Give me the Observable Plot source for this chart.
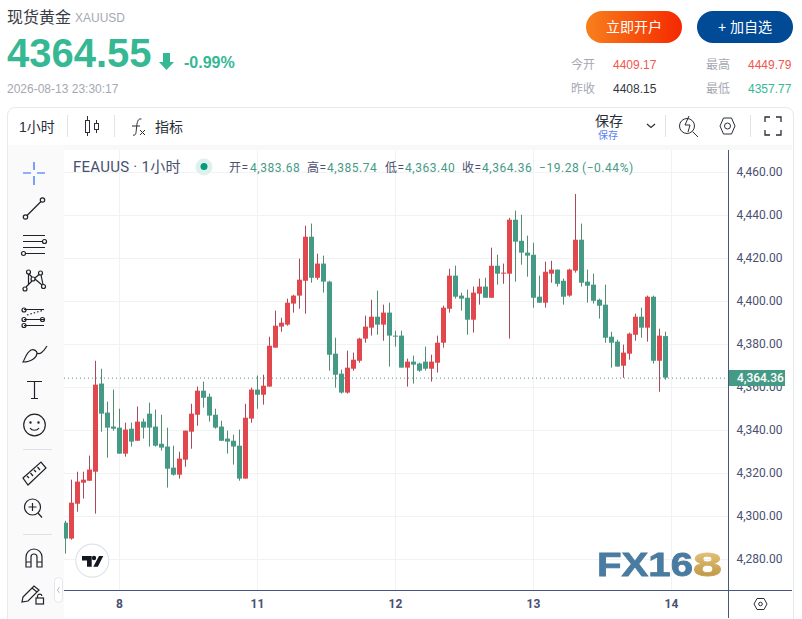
<!DOCTYPE html>
<html lang="zh">
<head>
<meta charset="utf-8">
<script src="https://cdn.jsdelivr.net/npm/d3@7"></script>
<script src="https://cdn.jsdelivr.net/npm/@observablehq/plot@0.6"></script>
<style>
html,body{margin:0;padding:0;background:#fff;width:802px;height:619px;overflow:hidden}
body{position:relative;font-family:"Liberation Sans","Noto Sans CJK SC",sans-serif}
.t{position:absolute;white-space:nowrap;line-height:1}
#card{position:absolute;left:7px;top:107px;width:785px;height:511px;border:1px solid #e8e9ee;border-radius:8px 8px 0 0;box-sizing:content-box}
#strip1{position:absolute;left:8px;top:145px;width:784px;height:5px;background:#f8f8f9}
#strip2{position:absolute;left:8px;top:145px;width:56px;height:473px;background:#fafafa;z-index:1}
#plot{position:absolute;left:0;top:0}
#chrome{position:absolute;left:0;top:0;pointer-events:none;z-index:2}
.btn{position:absolute;top:11px;width:96px;height:32px;border-radius:16px;color:#fff;font-size:14px;line-height:32px;text-align:center}
.leg{position:absolute;top:162px;font:12px/1 Roboto,"Noto Sans CJK SC",sans-serif;letter-spacing:.55px;white-space:nowrap}
</style>
</head>
<body>
<div id="card"></div><div id="strip1"></div><div id="strip2"></div>
<div id="plot"></div>

<div class="t" style="left:7px;top:10px;font-size:16px;color:#3a3d45">现货黄金</div>
<div class="t" style="left:75px;top:12px;font-size:12px;color:#a5a8b2">XAUUSD</div>
<div class="t" style="left:7px;top:33px;font-size:40px;font-weight:700;color:#35b893">4364.55</div>
<div class="t" style="left:184px;top:55px;font-size:16px;font-weight:700;color:#35b893">-0.99%</div>
<div class="t" style="left:7px;top:83px;font-size:12px;color:#a5a8b2">2026-08-13 23:30:17</div>
<div class="btn" style="left:586px;background:linear-gradient(90deg,#f8801c,#f52800)">立即开户</div>
<div class="btn" style="left:697px;background:#004a96">+ 加自选</div>

<div class="t" style="left:571px;top:59px;font-size:12px;color:#a5a8b2">今开</div>
<div class="t" style="left:613px;top:59px;font-size:12px;color:#f2564f">4409.17</div>
<div class="t" style="left:706px;top:59px;font-size:12px;color:#a5a8b2">最高</div>
<div class="t" style="left:748px;top:59px;font-size:12px;color:#f2564f">4449.79</div>
<div class="t" style="left:571px;top:83px;font-size:12px;color:#a5a8b2">昨收</div>
<div class="t" style="left:613px;top:83px;font-size:12px;color:#33363d">4408.15</div>
<div class="t" style="left:706px;top:83px;font-size:12px;color:#a5a8b2">最低</div>
<div class="t" style="left:748px;top:83px;font-size:12px;color:#35b893">4357.77</div>

<div class="t" style="left:19px;top:120px;font-size:14px;color:#2a2e39">1小时</div>
<div class="t" style="left:155px;top:120px;font-size:14px;color:#2a2e39">指标</div>
<div class="t" style="left:595px;top:114px;font-size:14px;color:#2a2e39">保存</div>
<div class="t" style="left:598px;top:131px;font-size:10px;color:#5b7ff5">保存</div>

<div class="t" style="left:73px;top:160px;font:15px/1 Roboto,'Noto Sans CJK SC',sans-serif;letter-spacing:.25px;color:#4a5070;z-index:3">FEAUUS · 1小时</div>
<div class="leg" style="left:229px;color:#4a5070">开=</div>
<div class="leg" style="left:250px;color:#459a86">4,383.68</div>
<div class="leg" style="left:307px;color:#4a5070">高=</div>
<div class="leg" style="left:327px;color:#459a86">4,385.74</div>
<div class="leg" style="left:385px;color:#4a5070">低=</div>
<div class="leg" style="left:405px;color:#459a86">4,363.40</div>
<div class="leg" style="left:462px;color:#4a5070">收=</div>
<div class="leg" style="left:482px;color:#459a86">4,364.36</div>
<div class="leg" style="left:539px;color:#459a86">−19.28</div>
<div class="leg" style="left:582px;color:#459a86">(−0.44%)</div>

<svg id="chrome" width="802" height="619" viewBox="0 0 802 619" fill="none">
  <defs>
    <linearGradient id="gold" x1="0" y1="0" x2="0" y2="1"><stop offset="0" stop-color="#e8cf8c"/><stop offset=".5" stop-color="#d3ad5e"/><stop offset="1" stop-color="#b98f3f"/></linearGradient>
  </defs>
  <!-- axis frame -->
  <path d="M728.5 150V618M64 590.5H792" stroke="#4a5680"/>
  <!-- header arrow -->
  <path d="M163 53h7v9h4l-7.5 8-7.5-8h4z" fill="#35b893"/>
  <!-- legend dot -->
  <circle cx="204" cy="167" r="8.5" fill="#dff1ec"/><circle cx="204" cy="166.500" r="3.5" fill="#089981"/>
  <!-- top toolbar -->
  <g stroke="#e0e3eb"><path d="M67.500 115V137M114.500 115V137M665.500 115V137M750.500 115V137"/></g>
  <g stroke="#2a2e39" stroke-width="1">
    <path d="M87.500 116V136M96.500 120V133"/>
    <rect x="85.500" y="120.500" width="4" height="12" fill="#fff"/>
    <rect x="94.500" y="123.500" width="4" height="6" fill="#fff"/>
    <path d="M133 135c3 1 3-2 3.500-7s1-10 5-9M132 126h8M140 130l5 5M145 130l-5 5"/>
    <path d="M647 124l4 3.500 4-3.500" stroke-width="1.200"/>
    <circle cx="687" cy="126" r="7.500"/><path d="M692.500 131.500l5.500 5.500M689 116l-4 9h5l-2 7" />
    <path d="M720 126l3.500-8h8l3.500 8-3.500 8h-8z"/><circle cx="727.500" cy="126" r="3"/>
    <path d="M765 122v-5h5M776 117h5v5M781 130v5h-5M770 135h-5v-5" stroke-width="1.300"/>
  </g>
  <!-- left toolbar -->
  <path d="M23 173h8M37 173h8M34 162v8M34 176v9" stroke="#2962ff" stroke-width="1.200"/>
  <g stroke="#1f222b" stroke-width="1.200">
    <circle cx="25.500" cy="217" r="2.200"/><circle cx="42.500" cy="200" r="2.200"/><path d="M27 215.500L41 201.500"/>
    <path d="M23 235.500H45M23 241.500H42M23 247.500H45M26 253.500H45"/><circle cx="44.500" cy="241.500" r="2"/><circle cx="23.500" cy="253.500" r="2"/>
    <circle cx="28.500" cy="272" r="2"/><circle cx="40.500" cy="273" r="2"/><circle cx="33" cy="279" r="2"/><circle cx="25" cy="289" r="2"/><circle cx="43.500" cy="286.500" r="2"/>
    <path d="M29 274L32 277M35 278L39 274.500M32 281L26 287M28.500 274V284M41 275L43 284.500M35 279L42 285"/>
    <path d="M24 309.500H44M24 319.500H44M24 325.500H44"/><circle cx="24" cy="310" r="2"/><circle cx="24" cy="319.500" r="2"/><circle cx="42.500" cy="319.500" r="2"/><circle cx="24" cy="325.500" r="2"/>
    <path d="M27 315L44 310" stroke-dasharray="1.500 2"/>
    <path d="M23 362c2-3 3-9 8-12 3-1 6 1 6 3 0 4-5 9-14 9zM37 353c3 2 6-1 10-7" />
    <path d="M27 381.500H42M34.500 381.500V398M31 398.500H38"/>
    <circle cx="34.500" cy="425" r="10.800"/><circle cx="30.500" cy="422.500" r=".6"/><circle cx="38.500" cy="422.500" r=".6"/><path d="M30 428c2 3 7 3 9 0"/>
    <path d="M23 478l18-16 5 6-18 17zM27 476l2 2M30.500 473l2.500 3M34 470l2 2M37.500 467l2.500 3"/>
    <circle cx="32.500" cy="507" r="8"/><path d="M38 513l4 4.500M32.500 503v8M28.500 507h8"/>
    <path d="M26 567v-10a8 8 0 0 1 16 0v10h-5v-10a3 3 0 0 0-6 0v10zM26 562h5M37 562h5"/>
    <path d="M23 597l11-11 5 4-11 11-6 1zM32 588l5 4"/>
    <rect x="36" y="598" width="7.500" height="6" /><path d="M37.500 598v-2a2.300 2.300 0 0 1 4.500 0"/>
  </g>
  <path d="M23 449.500H52M23 534.500H52" stroke="#dfe1ea"/>
  <rect x="54.500" y="577.500" width="8" height="25" rx="4" fill="#fff" stroke="#e4e6ec"/>
  <path d="M59.500 587l-2 3 2 3" stroke="#b9bcc8"/>
  <!-- settings hexagon -->
  <path d="M754 604l3-5.500h7l3 5.500-3 5.500h-7z" stroke="#2a2e39"/><circle cx="760.500" cy="604" r="1.800" stroke="#2a2e39"/>
  <!-- TradingView badge -->
  <circle cx="92.300" cy="560.700" r="16.500" fill="#fff" stroke="#e0e3eb" stroke-width="1.200"/>
  <path d="M82 556h9.700v10.700h-4.700v-6.200h-5zM99 556h4.300l-5.500 10.700h-4.500z" fill="#131722"/><circle cx="94" cy="558" r="2.200" fill="#131722"/>
  <!-- FX168 mark -->
  <g font-family="Liberation Sans" font-weight="700" font-size="34" style="filter:blur(.4px)">
    <text x="597" y="575.500" textLength="96" lengthAdjust="spacingAndGlyphs" fill="#4a7ba0" stroke="#4a7ba0" stroke-width=".8">FX16</text>
    <text x="693" y="575.500" textLength="29" lengthAdjust="spacingAndGlyphs" fill="url(#gold)" stroke="url(#gold)" stroke-width=".8">8</text>
  </g>
</svg>

<script>
// Hourly candles, left to right
const opens = [4296.9,4289.5,4305.7,4315.5,4316.4,4320.6,4361.6,4348.1,4341.6,4341.1,4329.0,4340.6,4335.0,4343.9,4347.6,4341.6,4333.6,4332.3,4322.5,4319.2,4326.2,4339.2,4347.1,4358.3,4355.5,4347.1,4341.6,4336.0,4335.0,4332.7,4317.4,4345.3,4358.8,4356.4,4360.2,4378.3,4388.1,4389.0,4398.8,4402.5,4409.4,4429.9,4410.8,4417.4,4409.0,4375.5,4366.2,4357.4,4368.5,4372.2,4382.5,4387.6,4392.7,4389.0,4394.6,4383.9,4383.9,4369.0,4371.8,4370.9,4371.8,4368.5,4371.3,4380.6,4396.4,4411.8,4402.5,4401.5,4391.3,4403.4,4406.7,4401.5,4416.4,4412.7,4412.7,4437.8,4428.0,4422.5,4421.5,4402.0,4399.2,4412.7,4414.6,4409.4,4402.5,4414.1,4428.5,4409.0,4407.6,4400.6,4398.3,4383.4,4381.1,4369.9,4375.5,4384.3,4392.7,4387.6,4402.0,4372.2,4383.68];
const closes = [4289.5,4306.2,4316.0,4316.9,4321.6,4361.1,4347.6,4341.1,4340.6,4329.0,4340.2,4334.6,4343.9,4341.1,4341.1,4332.7,4331.8,4322.0,4319.2,4326.7,4339.7,4347.6,4358.3,4355.0,4346.7,4341.1,4335.0,4334.6,4332.3,4317.4,4345.7,4358.8,4356.4,4360.6,4379.2,4388.5,4389.9,4399.2,4402.5,4409.9,4429.9,4410.8,4417.4,4409.0,4375.0,4365.7,4357.4,4369.0,4372.7,4382.5,4388.1,4392.7,4389.0,4394.6,4383.9,4383.4,4369.0,4371.8,4370.4,4367.6,4368.5,4371.8,4380.6,4396.9,4411.8,4402.0,4401.1,4391.3,4403.9,4406.7,4401.5,4416.4,4412.7,4413.2,4437.8,4427.6,4422.5,4421.1,4401.5,4399.2,4413.6,4414.6,4408.0,4402.0,4414.6,4428.5,4408.5,4407.1,4400.1,4397.8,4382.9,4380.6,4369.5,4376.0,4384.8,4392.7,4387.6,4402.0,4372.2,4383.9,4364.36];
const highs = [4297.8,4316.9,4320.6,4320.6,4328.1,4372.2,4368.5,4353.2,4358.8,4349.9,4343.4,4343.4,4350.9,4345.3,4352.7,4349.5,4347.1,4341.1,4332.7,4329.9,4339.7,4352.2,4360.2,4362.5,4356.9,4349.9,4344.3,4339.7,4337.8,4340.2,4352.2,4359.7,4365.3,4365.7,4383.4,4395.5,4392.2,4401.1,4402.9,4419.7,4435.0,4436.0,4422.0,4421.1,4409.4,4382.9,4368.1,4376.9,4376.0,4382.9,4393.2,4400.6,4404.8,4398.3,4399.2,4386.2,4386.2,4373.2,4374.6,4371.3,4378.8,4375.0,4383.9,4397.8,4415.0,4416.4,4403.9,4405.3,4406.7,4410.4,4410.8,4424.8,4421.5,4417.4,4438.7,4442.0,4440.1,4430.4,4427.1,4411.8,4418.3,4418.7,4414.6,4410.4,4415.0,4449.8,4436.0,4414.6,4412.7,4401.1,4407.6,4385.7,4382.0,4379.7,4385.3,4394.1,4396.9,4402.5,4402.5,4387.1,4385.74];
const lows = [4282.5,4289.0,4302.0,4308.1,4316.4,4301.1,4339.2,4327.1,4339.7,4329.0,4327.6,4332.3,4335.0,4336.0,4332.3,4332.3,4330.4,4313.2,4318.8,4317.4,4322.9,4331.3,4342.0,4350.4,4343.9,4340.6,4335.0,4329.0,4323.9,4316.4,4317.4,4343.4,4349.9,4351.8,4360.2,4378.3,4385.7,4388.5,4394.6,4396.4,4394.1,4408.5,4409.9,4403.9,4367.6,4359.7,4356.9,4356.9,4367.6,4371.3,4380.6,4383.9,4384.3,4381.5,4369.5,4378.8,4369.0,4360.2,4361.6,4367.1,4367.6,4362.5,4366.7,4378.3,4394.6,4401.1,4395.5,4384.3,4385.3,4398.3,4401.5,4401.5,4407.6,4408.0,4382.5,4409.0,4416.9,4411.3,4396.9,4399.2,4396.9,4408.5,4406.7,4398.3,4402.0,4413.2,4406.7,4399.2,4398.8,4391.8,4380.6,4369.0,4369.5,4364.3,4372.7,4381.5,4382.9,4381.1,4370.9,4357.8,4363.40];
const priceTicks = [4280,4300,4320,4340,4360,4380,4400,4420,4440,4460];
const dayTicks = [9,32,55,78,101];
const dayLabels = ["8","11","12","13","14"];
const lastPrice = 4364.36;

const upBody = "#e2474e", downBody = "#459a86", upWick = "#a84a5a", downWick = "#558c70";
const gridColor = "#f1f2f4", inkColor = "#4a5070";

const candles = opens.map((o, i) => ({i, o, c: closes[i], h: highs[i], l: lows[i], up: closes[i] >= o}));
const fontFamily = 'Roboto,"Noto Sans CJK SC",sans-serif';

const chart = Plot.plot({
  width: 802, height: 619,
  marginLeft: 64, marginRight: 74, marginTop: 150, marginBottom: 29,
  style: {background: "transparent", fontFamily, fontSize: "12px", overflow: "visible"},
  x: {domain: [-1/6, 110.5], axis: null},
  y: {domain: [4265.58, 4470.23], axis: null},
  marks: [
    Plot.gridX(dayTicks, {stroke: gridColor, strokeOpacity: 1}),
    Plot.gridY(priceTicks, {stroke: gridColor, strokeOpacity: 1}),
    Plot.axisX({ticks: dayTicks, tickFormat: d => dayLabels[dayTicks.indexOf(d)], tickSize: 0, tickPadding: 9, fontSize: 12, fontWeight: 700, color: inkColor, label: null}),
    Plot.axisY({anchor: "right", ticks: priceTicks, tickFormat: d3.format(",.2f"), tickSize: 0, tickPadding: 8, fontSize: 12, color: inkColor, label: null}),
    Plot.ruleY([lastPrice], {stroke: downBody, strokeDasharray: "1 3"}),
    Plot.ruleX(candles, {x: "i", y1: "l", y2: "h", stroke: d => d.up ? upWick : downWick, strokeWidth: 1}),
    Plot.ruleX(candles, {x: "i", y1: "o", y2: "c", stroke: d => d.up ? upBody : downBody, strokeWidth: 5}),
    Plot.ruleY([lastPrice], {x1: 110.6, x2: 120, stroke: downBody, strokeWidth: 16}),
    Plot.text([lastPrice], {x: () => 111.9, y: d => d, text: d3.format(",.2f"), textAnchor: "start", fill: "#fff", fontSize: 12, fontWeight: 500})
  ]
});
document.getElementById("plot").append(chart);
</script>
</body>
</html>
